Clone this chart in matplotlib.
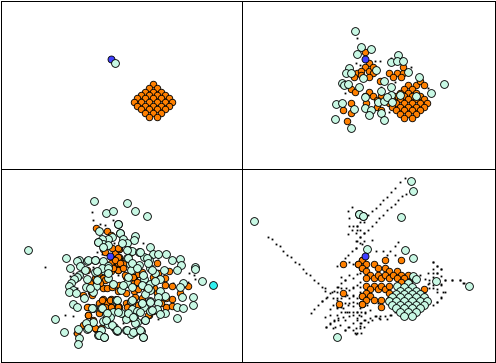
import matplotlib
matplotlib.use("Agg")
import matplotlib.pyplot as plt

W, H = 496, 363
ORANGE = "#ff8000"
MINT = "#c8f8e4"
BLUE = "#4040ff"
CYAN = "#30f0f0"

# diamond cluster of points, panel 1 positions
diamond_x = [153, 149, 157, 145, 153, 161, 141, 149, 157, 165, 137, 145, 153, 161, 169,
             134, 141, 149, 157, 165, 172, 137, 145, 153, 161, 169, 141, 149, 157, 165,
             145, 153, 161, 149, 157]
diamond_y = [84, 88, 88, 92, 92, 92, 95, 95, 95, 95, 98, 98, 98, 98, 98,
             102, 102, 102, 102, 102, 102, 106, 106, 106, 106, 106, 109, 109, 109, 109,
             113, 113, 113, 117, 117]

# panel 1
p1_blue = [(110.5, 58.5)]
p1_mint = [(115, 63)]

p2_blue = [(136, 118)]
p2_mint = [(106, 34), (124, 81), (154, 88), (112, 102), (235, 105), (214, 127), (232, 122), (250, 122),
           (88, 144), (79, 160), (94, 160), (130, 175), (169, 150), (265, 156), (298, 171), (373, 192),
           (67, 189), (72, 195), (85, 192), (118, 201), (193, 183), (214, 201), (184, 213), (334, 219),
           (136, 231), (214, 225), (241, 225), (289, 228), (175, 246), (193, 243), (202, 231), (217, 246),
           (49, 252), (67, 249), (103, 267), (136, 264), (154, 270), (148, 285), (184, 279), (46, 297),
           (193, 300), (94, 324)]
p2_orange = [(136, 96), (148, 128), (136, 141), (112, 160), (124, 153), (148, 153), (160, 141), (160, 160),
             (103, 172), (124, 165), (148, 172), (207, 160), (231, 160), (250, 160), (250, 141), (219, 172),
             (243, 172), (181, 183), (287, 195), (300, 183), (311, 195), (92, 207), (104, 216), (148, 216),
             (136, 228), (160, 228), (184, 228), (172, 240), (138, 248), (92, 248), (68, 270), (92, 280),
             (80, 303), (172, 260), (184, 270)]
p2_black = [(110, 54), (108, 128), (120, 135), (165, 122), (180, 122), (213, 114), (272, 141), (225, 185),
            (184, 200), (323, 204), (75, 219), (208, 275), (193, 290)]

# panel 3, left half from a crop at (20, 190), right half from a crop at (115, 190)
p3a_blue = [(271, 199)]
p3a_mint = [(223, 34), (259, 69), (280, 64), (25, 181), (295, 102), (238, 124), (300, 130), (275, 140),
            (265, 147), (245, 148), (235, 157), (250, 163), (265, 165), (139, 205), (178, 211), (170, 213),
            (202, 214), (226, 211), (250, 214), (181, 229), (151, 235), (196, 241), (226, 247), (250, 241),
            (265, 229), (178, 256), (172, 262), (163, 268), (202, 268), (265, 265), (154, 280), (148, 289),
            (199, 292), (229, 289), (280, 283), (160, 301), (148, 307), (169, 310), (220, 307), (193, 325),
            (289, 330), (160, 343), (172, 352), (220, 355), (244, 355), (259, 373), (280, 365), (106, 388),
            (220, 397), (199, 400), (250, 394), (271, 382), (265, 403), (283, 412), (292, 422), (175, 418),
            (202, 418), (244, 421), (133, 427), (235, 436), (253, 442), (178, 445), (175, 463)]
p3a_orange = [(228, 114), (262, 123), (274, 135), (250, 178), (298, 178), (286, 190), (298, 208), (286, 208),
              (274, 220), (298, 223), (286, 232), (274, 244), (295, 241), (238, 250), (226, 265), (250, 265),
              (238, 277), (214, 283), (250, 295), (262, 295), (190, 316), (214, 307), (250, 328), (274, 328),
              (238, 340), (262, 340), (274, 352), (298, 352), (205, 352), (205, 376), (238, 370), (190, 405),
              (229, 418), (172, 430)]
p3a_black = [(215, 66), (218, 90), (240, 102), (255, 105), (278, 90), (282, 158), (232, 187), (245, 193),
             (75, 231), (150, 258), (172, 295), (135, 376), (158, 379), (162, 430), (220, 232), (160, 250)]
p3b_cyan = [(295, 286)]
p3b_mint = [(37, 40), (61, 64), (97, 79), (10, 103), (16, 130), (25, 148), (61, 139), (58, 150), (37, 160),
            (106, 170), (40, 181), (52, 184), (73, 187), (115, 193), (130, 193), (154, 193), (103, 211),
            (88, 202), (172, 211), (196, 208), (37, 205), (46, 223), (199, 226), (73, 226), (241, 232),
            (241, 238), (106, 235), (49, 241), (121, 250), (148, 241), (187, 241), (136, 268), (88, 268),
            (106, 283), (121, 274), (262, 274), (205, 280), (196, 292), (37, 280), (19, 301), (106, 301),
            (91, 313), (136, 304), (151, 319), (202, 322), (235, 322), (130, 322), (4, 331), (49, 334),
            (106, 334), (82, 340), (130, 340), (235, 346), (187, 352), (205, 355), (52, 358), (88, 352),
            (127, 358), (151, 370), (19, 370), (67, 364), (106, 364), (136, 373), (34, 388), (58, 382),
            (91, 391), (187, 385), (67, 397), (4, 421), (34, 421), (58, 427), (49, 433), (79, 424), (85, 442)]
p3b_orange = [(11, 177), (11, 200), (10, 220), (28, 220), (127, 220), (10, 241), (34, 262), (58, 262),
              (70, 253), (82, 247), (163, 244), (151, 264), (130, 250), (58, 280), (82, 286), (11, 286),
              (10, 304), (34, 310), (58, 304), (70, 298), (94, 295), (118, 295), (151, 286), (172, 287),
              (219, 287), (195, 310), (127, 310), (171, 328), (58, 328), (82, 325), (154, 325), (10, 349),
              (34, 340), (46, 340), (154, 352), (170, 349), (137, 340), (46, 358), (103, 375), (114, 364),
              (130, 364)]
p3b_black = [(84, 160), (222, 250), (238, 256), (241, 268), (220, 275), (175, 280), (10, 255), (130, 388),
             (25, 400), (185, 235), (130, 205)]
# dense middle of panel 3, crops at (85, 240) and (85, 295)
p3c_mint = [(10, 60), (30, 60), (50, 85), (70, 85), (35, 120), (15, 145), (40, 5), (55, 20), (110, 10),
            (125, 30), (165, 35), (185, 55), (130, 55), (140, 70), (190, 70), (200, 90), (155, 85),
            (175, 105), (130, 110), (115, 135), (140, 140), (170, 135), (190, 145), (35, 92), (70, 100)]
p3c_orange = [(60, 35), (80, 25), (100, 25), (100, 50), (90, 60), (105, 70), (85, 85), (115, 85), (60, 120),
              (35, 110), (45, 130), (80, 140), (120, 105), (145, 110), (155, 125), (200, 130), (205, 110),
              (15, 130), (135, 40), (5, 90), (20, 165)]
p3d_mint = [(20, 40), (50, 40), (65, 55), (62, 75), (80, 90), (95, 105), (8, 100), (42, 120), (58, 125),
            (125, 105), (145, 110), (165, 105), (175, 125), (150, 85), (180, 75), (95, 15), (140, 15),
            (170, 25), (195, 20), (100, 50), (130, 55), (165, 50), (145, 65), (200, 45)]
p3d_orange = [(5, 35), (25, 40), (50, 15), (75, 15), (60, 35), (78, 35), (100, 35), (125, 35), (150, 5),
              (160, 30), (190, 60), (205, 45), (120, 60), (135, 70), (8, 60), (30, 100), (48, 100), (25, 75)]

# panel 4, left half from a crop at (245, 175), right half from a crop at (355, 175)
p4a_mint = [(28, 139), (343, 118), (355, 124), (277, 487)]
p4a_orange = [(294, 267), (339, 267), (351, 255), (351, 279), (294, 353), (282, 386), (351, 362), (351, 386)]
p4a_black = [(69, 185), (80, 193), (92, 207), (104, 213), (114, 228), (126, 241), (138, 246), (150, 260),
             (162, 268), (173, 282), (184, 295), (195, 300), (207, 315), (218, 325), (230, 335), (241, 347),
             (254, 355), (198, 414), (208, 402), (219, 390), (231, 378), (242, 368), (266, 348), (278, 336),
             (288, 324), (300, 314), (311, 300), (321, 96), (309, 108), (311, 130), (335, 125), (345, 140),
             (312, 153), (324, 153), (336, 153), (321, 165), (345, 165), (309, 176), (333, 174), (345, 185),
             (336, 197), (357, 175), (357, 197), (345, 205), (333, 218), (321, 228), (309, 240), (276, 272),
             (300, 250), (312, 260), (324, 268), (288, 307), (300, 315), (324, 310), (336, 297), (345, 295),
             (288, 340), (312, 345), (324, 337), (336, 330), (345, 320), (264, 370), (276, 370), (288, 370),
             (300, 362), (312, 370), (324, 362), (336, 370), (345, 350), (264, 390), (276, 395), (288, 395),
             (300, 385), (312, 385), (324, 380), (336, 385), (345, 400), (288, 410), (300, 410), (312, 410),
             (324, 420), (336, 410), (276, 420), (300, 435), (312, 422), (336, 430), (348, 422), (266, 437),
             (254, 445), (242, 456), (278, 435), (264, 458), (300, 464), (312, 456), (324, 464), (336, 475),
             (348, 445), (348, 475), (357, 455)]
p4b_blue = [(31, 244)]
p4b_mint = [(169, 19), (175, 49), (139, 127), (13, 118), (25, 124), (37, 223), (151, 226), (175, 250),
            (175, 304), (184, 313), (244, 319), (343, 334), (127, 334)]
p4b_orange = [(21, 254), (9, 266), (33, 266), (21, 280), (33, 287), (57, 266), (69, 280), (90, 254), (90, 280),
              (102, 287), (138, 254), (126, 287), (45, 299), (33, 308), (57, 308), (69, 299), (78, 308),
              (90, 299), (102, 308), (114, 299), (138, 299), (159, 299), (126, 308), (147, 308), (138, 320),
              (162, 320), (33, 332), (57, 332), (45, 341), (69, 341), (78, 332), (90, 341), (102, 332),
              (102, 353), (33, 353), (45, 362), (21, 362), (33, 374), (57, 374), (78, 374), (21, 386),
              (78, 395), (102, 374), (207, 341)]
p4b_black = [(150, 8), (134, 22), (120, 40), (108, 52), (96, 66), (84, 76), (74, 88), (62, 100), (50, 108),
             (38, 120), (153, 56), (140, 64), (129, 74), (120, 86), (108, 96), (96, 106), (84, 120), (72, 130),
             (62, 140), (50, 152), (38, 164), (26, 174), (14, 186), (3, 198), (3, 220), (270, 314), (291, 314),
             (315, 314), (326, 324), (258, 367), (245, 380), (270, 352), (234, 260), (246, 272), (258, 282),
             (246, 294), (234, 306), (222, 316), (222, 340), (210, 352), (234, 330), (246, 342), (258, 330),
             (5, 154), (27, 142), (5, 166), (50, 194), (20, 206), (120, 214), (129, 202), (105, 228), (84, 228),
             (62, 228), (96, 240), (120, 240), (62, 422), (74, 422), (50, 434), (38, 442), (26, 434), (14, 444),
             (5, 434), (2, 458), (2, 476), (74, 432), (106, 420), (120, 410), (96, 432), (18, 410), (30, 410),
             (5, 410)]
# extra dots in panel 4, crops at (320, 285) and (420, 240)
p4c_black = [(5, 47), (20, 35), (35, 20), (50, 5), (15, 10), (50, 22), (78, 8), (50, 45), (80, 30), (100, 8),
             (100, 30), (120, 5), (30, 72), (50, 68), (70, 70), (85, 60), (100, 62), (120, 55), (140, 60),
             (160, 50), (175, 55), (190, 65), (15, 95), (30, 90), (42, 105), (55, 100), (70, 95), (82, 80),
             (100, 80), (118, 90), (135, 85), (150, 75), (165, 92), (178, 100), (195, 92), (212, 90), (18, 125),
             (30, 118), (45, 125), (60, 120), (85, 125), (100, 115), (120, 122), (135, 105), (150, 100),
             (75, 135), (105, 145), (120, 130)]
p4d_black = [(40, 65), (52, 77), (40, 87), (62, 88), (25, 100), (40, 100), (52, 100), (62, 108), (0, 105),
             (75, 120), (95, 120), (120, 120), (130, 128), (62, 132), (52, 130), (25, 132), (40, 145), (52, 155),
             (70, 155), (62, 175), (50, 185), (38, 195), (28, 130), (15, 118)]


def crop(pts, x0, y0):
    # crop readings are 3x, put them back in picture pixels
    return [(x0 + x / 3, y0 + y / 3) for x, y in pts]


def shift(dx, dy):
    return [(x + dx, y + dy) for x, y in zip(diamond_x, diamond_y)]


def draw(ax, pts, color, size, z):
    xs = [p[0] for p in pts]
    ys = [p[1] for p in pts]
    if color == "k":
        ax.plot(xs, ys, "s", color="k", ms=1.3, mew=0, zorder=z)
    else:
        ax.plot(xs, ys, "o", color=color, ms=size, mec="k", mew=0.62, zorder=z)


fig = plt.figure(figsize=(W / 100, H / 100), dpi=100)

# panel edges in picture pixels: left, right, top, bottom
boxes = [(0.5, 241.5, 0.5, 168.5), (241.5, 494.5, 0.5, 168.5),
         (0.5, 241.5, 168.5, 361.5), (241.5, 494.5, 168.5, 361.5)]
axes = []
for l, r, t, b in boxes:
    ax = fig.add_axes([l / W, 1 - b / H, (r - l) / W, (b - t) / H])
    ax.set_xlim(l, r)
    ax.set_ylim(b, t)
    ax.set_xticks([])
    ax.set_yticks([])
    for s in ax.spines.values():
        s.set_linewidth(0.72)
    axes.append(ax)

ORANGE_MS, MINT_MS, BLUE_MS = 4.7, 5.6, 5.0

ax = axes[0]
draw(ax, list(zip(diamond_x, diamond_y)), ORANGE, ORANGE_MS, 3)
draw(ax, p1_blue, BLUE, BLUE_MS, 4)
draw(ax, p1_mint, MINT, MINT_MS, 5)

ax = axes[1]
draw(ax, crop(p2_black, 320, 20), "k", 0, 2)
draw(ax, crop(p2_orange, 320, 20) + shift(254.7, 1.3), ORANGE, ORANGE_MS, 3)
draw(ax, crop(p2_mint, 320, 20), MINT, MINT_MS, 4)
draw(ax, crop(p2_blue, 320, 20), BLUE, BLUE_MS, 5)

ax = axes[2]
draw(ax, crop(p3a_black, 20, 190) + crop(p3b_black, 115, 190), "k", 0, 2)
draw(ax, crop(p3a_orange, 20, 190) + crop(p3b_orange, 115, 190)
     + crop(p3c_orange, 85, 240) + crop(p3d_orange, 85, 295), ORANGE, ORANGE_MS, 3)
draw(ax, crop(p3a_mint, 20, 190) + crop(p3b_mint, 115, 190)
     + crop(p3c_mint, 85, 240) + crop(p3d_mint, 85, 295), MINT, MINT_MS, 4)
draw(ax, crop(p3a_blue, 20, 190), BLUE, BLUE_MS, 5)
draw(ax, crop(p3b_cyan, 115, 190), CYAN, MINT_MS, 5)

ax = axes[3]
draw(ax, crop(p4a_black, 245, 175) + crop(p4b_black, 355, 175)
     + crop(p4c_black, 320, 285) + crop(p4d_black, 420, 240), "k", 0, 2)
draw(ax, crop(p4a_orange, 245, 175) + crop(p4b_orange, 355, 175), ORANGE, ORANGE_MS, 3)
draw(ax, crop(p4a_mint, 245, 175) + crop(p4b_mint, 355, 175) + shift(255, 199.3), MINT, MINT_MS, 4)
draw(ax, crop(p4b_blue, 355, 175), BLUE, BLUE_MS, 5)

fig.savefig("out.png", dpi=100, facecolor="white")
